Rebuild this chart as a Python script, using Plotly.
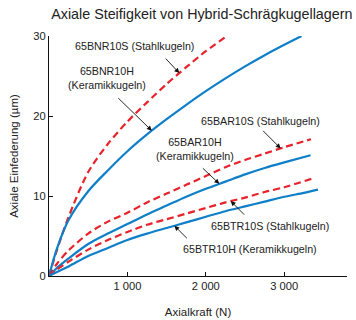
import numpy as np
import plotly.graph_objects as go

# ---- data ----
x_bnr10s = [0, 100, 250, 500, 750, 1000, 1250, 1500, 1750, 2000, 2270]
y_bnr10s = [0, 3.2, 7.4, 13.0, 16.5, 19.3, 21.7, 24.0, 26.1, 28.1, 30.0]

x_bnr10h = [0, 100, 250, 500, 750, 1000, 1250, 1500, 1750, 2000, 2250, 2500, 2750, 3000, 3220]
y_bnr10h = [0, 3.4, 7.0, 10.6, 13.2, 15.6, 17.7, 19.6, 21.4, 23.1, 24.7, 26.2, 27.6, 28.9, 30.0]

x_bar10s = [0, 100, 250, 500, 750, 1000, 1250, 1500, 1750, 2000, 2250, 2500, 2750, 3000, 3340]
y_bar10s = [0, 1.5, 3.2, 5.3, 6.8, 7.9, 9.2, 10.3, 11.4, 12.5, 13.6, 14.5, 15.3, 16.1, 17.1]

x_bar10h = [0, 100, 250, 500, 750, 1000, 1250, 1500, 1750, 2000, 2250, 2500, 2750, 3000, 3335]
y_bar10h = [0, 1.0, 2.2, 4.0, 5.3, 6.5, 7.7, 8.8, 9.9, 10.9, 11.8, 12.7, 13.5, 14.2, 15.1]

x_btr10s = [0, 100, 250, 500, 750, 1000, 1250, 1500, 1750, 2000, 2250, 2500, 2750, 3000, 3365]
y_btr10s = [0, 0.8, 1.8, 3.3, 4.5, 5.5, 6.4, 7.1, 7.8, 8.5, 9.2, 9.8, 10.5, 11.1, 12.2]

x_btr10h = [0, 100, 250, 500, 750, 1000, 1250, 1500, 1750, 2000, 2250, 2500, 2750, 3000, 3250, 3430]
y_btr10h = [0, 0.5, 1.2, 2.5, 3.5, 4.5, 5.3, 6.0, 6.7, 7.4, 8.1, 8.7, 9.3, 9.9, 10.4, 10.8]

x_ticks = [1000, 2000, 3000]
x_tick_labels = ["1 000", "2 000", "3 000"]
y_ticks = [0, 10, 20, 30]

BLUE = "#0f7fc8"
RED = "#e8222b"
TXT = "#222222"
FONT = "Arial, Liberation Sans, sans-serif"

series = [
    ("65BNR10S", x_bnr10s, y_bnr10s, RED, "dash"),
    ("65BNR10H", x_bnr10h, y_bnr10h, BLUE, "solid"),
    ("65BAR10S", x_bar10s, y_bar10s, RED, "dash"),
    ("65BAR10H", x_bar10h, y_bar10h, BLUE, "solid"),
    ("65BTR10S", x_btr10s, y_btr10s, RED, "dash"),
    ("65BTR10H", x_btr10h, y_btr10h, BLUE, "solid"),
]

fig = go.Figure()
for name, xs, ys, col, dash in series:
    fig.add_trace(go.Scatter(
        x=xs, y=ys, mode="lines", name=name,
        line=dict(color=col, width=2.2, dash="7px,4px" if dash == "dash" else "solid",
                  shape="spline", smoothing=0.8),
        showlegend=False, hoverinfo="skip"))

# label text: (lines, text-centre x data, y data)
labels = [
    ("65BNR10S (Stahlkugeln)", 1092, 28.7),
    ("65BNR10H<br>(Keramikkugeln)", 742, 24.8),
    ("65BAR10S (Stahlkugeln)", 2703, 19.4),
    ("65BAR10H<br>(Keramikkugeln)", 1862, 15.9),
    ("65BTR10S (Stahlkugeln)", 2818, 6.2),
    ("65BTR10H (Keramikkugeln)", 2563, 3.4),
]
for txt, lx, ly in labels:
    fig.add_annotation(x=lx, y=ly, xref="x", yref="y", text=txt, showarrow=False,
                       font=dict(family=FONT, size=10.7, color=TXT), align="center")

# arrows: (series index, x on curve, tail offset px)
arrows = [
    (0, 1662, -15, -16),
    (1, 1311, -35, -34),
    (2, 2954, -19, -19),
    (3, 2172, -18, -17),
    (4, 2317, 15, 15),
    (5, 1599, 14, 14),
]
for idx, ax_x, dx, dy in arrows:
    _, xs, ys, _, _ = series[idx]
    yy = float(np.interp(ax_x, xs, ys))
    fig.add_annotation(x=ax_x, y=yy, xref="x", yref="y", text="", showarrow=True,
                       ax=dx, ay=dy, arrowhead=2, arrowsize=1.1, arrowwidth=0.9,
                       arrowcolor="#111111", standoff=0)

fig.update_layout(
    width=356, height=320,
    margin=dict(l=49, r=9, t=36, b=44),
    paper_bgcolor="white", plot_bgcolor="white",
    font=dict(family=FONT, size=11, color=TXT),
    title=dict(text="Axiale Steifigkeit von Hybrid-Schrägkugellagern",
               font=dict(family=FONT, size=14.3, color=TXT),
               x=0.567, xref="container", xanchor="center",
               y=1 - 14 / 320, yref="container", yanchor="middle"),
)
fig.update_xaxes(range=[0, 3800], tickvals=x_ticks, ticktext=x_tick_labels,
                 showgrid=False, zeroline=False, showline=True, linecolor="#111",
                 linewidth=1, ticks="inside", ticklen=4, tickcolor="#111",
                 tickfont=dict(size=11.2, color=TXT), automargin=False,
                 title=dict(text="Axialkraft (N)", font=dict(size=11.5, color=TXT), standoff=16))
fig.update_yaxes(range=[0, 30], tickvals=y_ticks,
                 showgrid=False, zeroline=False, showline=True, linecolor="#111",
                 linewidth=1, ticks="inside", ticklen=4, tickcolor="#111",
                 tickfont=dict(size=11.2, color=TXT), automargin=False,
                 title=dict(text="Axiale Einfederung (µm)", font=dict(size=11.5, color=TXT), standoff=12))

fig.write_html("out.html", config={"displayModeBar": False},
               post_script="document.body.style.margin='0';document.body.style.padding='0';")
